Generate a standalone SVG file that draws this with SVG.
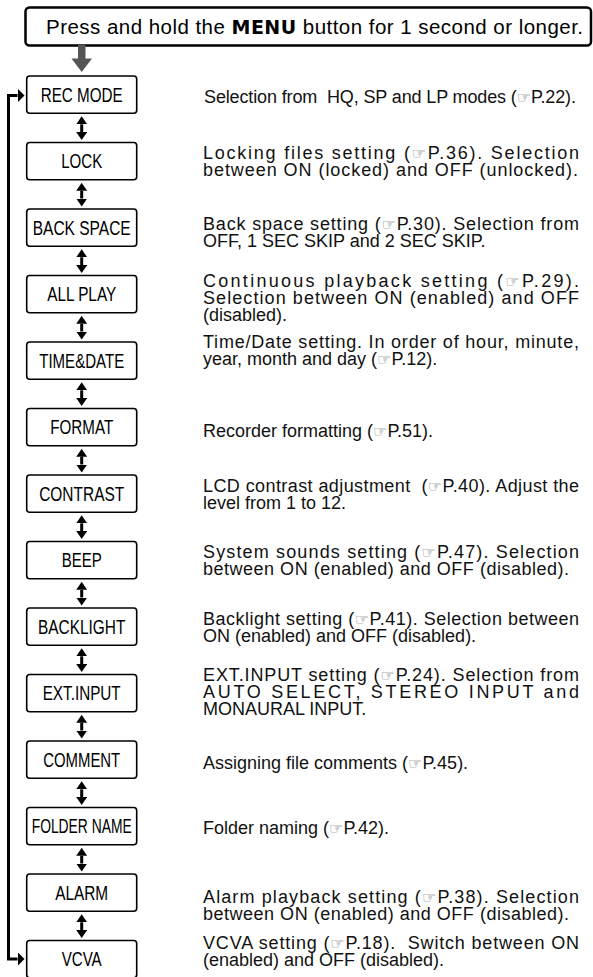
<svg xmlns="http://www.w3.org/2000/svg" width="593" height="977" viewBox="0 0 593 977">
<style>
.box{fill:#fff;stroke:#000;stroke-width:1.6}
.lbl{font-family:"Liberation Sans",Arial,sans-serif;font-size:20.5px;fill:#000;text-anchor:middle}
.d{font-family:"Liberation Sans",Arial,sans-serif;font-size:18px;fill:#111}
.h{font-family:"DejaVu Sans",sans-serif;font-size:16px;fill:#666}
.c{stroke:#000;stroke-width:3;fill:none}
</style>
<defs>
<marker id="ah" markerUnits="userSpaceOnUse" viewBox="0 0 8 11" markerWidth="8" markerHeight="11" refX="0" refY="5.5" orient="auto-start-reverse"><path d="M0,0 L8,5.5 L0,11 z" fill="#000"/></marker>
<marker id="lh" markerUnits="userSpaceOnUse" viewBox="0 0 7 14" markerWidth="7" markerHeight="14" refX="0" refY="7" orient="auto-start-reverse"><path d="M0,0 L7,7 L0,14 z" fill="#000"/></marker>
</defs>
<g id="start">
<rect x="25.5" y="7.5" width="565.5" height="38" rx="4" fill="#fff" stroke="#000" stroke-width="2.5"/>
<text x="46" y="34" font-family="'Liberation Sans',Arial,sans-serif" font-size="20.5" fill="#000" textLength="537" lengthAdjust="spacing">Press and hold the <tspan font-family="'DejaVu Sans',sans-serif" font-weight="bold" font-size="19">MENU</tspan> button for 1 second or longer.</text>
</g>
<g id="connectors">
<path d="M78,45 H85.5 V58.5 H92 L81.7,72 L71.5,58.5 H78 z" fill="#555"/>
<line class="c" x1="81.7" y1="124.3" x2="81.7" y2="132" marker-start="url(#ah)" marker-end="url(#ah)"/>
<line class="c" x1="81.7" y1="190.8" x2="81.7" y2="198.5" marker-start="url(#ah)" marker-end="url(#ah)"/>
<line class="c" x1="81.7" y1="257.3" x2="81.7" y2="265" marker-start="url(#ah)" marker-end="url(#ah)"/>
<line class="c" x1="81.7" y1="323.8" x2="81.7" y2="331.5" marker-start="url(#ah)" marker-end="url(#ah)"/>
<line class="c" x1="81.7" y1="390.3" x2="81.7" y2="398" marker-start="url(#ah)" marker-end="url(#ah)"/>
<line class="c" x1="81.7" y1="456.8" x2="81.7" y2="464.5" marker-start="url(#ah)" marker-end="url(#ah)"/>
<line class="c" x1="81.7" y1="523.3" x2="81.7" y2="531" marker-start="url(#ah)" marker-end="url(#ah)"/>
<line class="c" x1="81.7" y1="589.8" x2="81.7" y2="597.5" marker-start="url(#ah)" marker-end="url(#ah)"/>
<line class="c" x1="81.7" y1="656.3" x2="81.7" y2="664" marker-start="url(#ah)" marker-end="url(#ah)"/>
<line class="c" x1="81.7" y1="722.8" x2="81.7" y2="730.5" marker-start="url(#ah)" marker-end="url(#ah)"/>
<line class="c" x1="81.7" y1="789.3" x2="81.7" y2="797" marker-start="url(#ah)" marker-end="url(#ah)"/>
<line class="c" x1="81.7" y1="855.8" x2="81.7" y2="863.5" marker-start="url(#ah)" marker-end="url(#ah)"/>
<line class="c" x1="81.7" y1="922.3" x2="81.7" y2="930" marker-start="url(#ah)" marker-end="url(#ah)"/>
<path class="c" stroke-width="3.2" d="M17.5,95.5 H8.5 V959 H17.5" marker-start="url(#lh)" marker-end="url(#lh)"/>
</g>
<g id="n0"><rect class="box" x="26.7" y="76" width="110" height="37.3" rx="3"/><text class="lbl" x="81.7" y="101.7" textLength="82" lengthAdjust="spacingAndGlyphs">REC MODE</text></g>
<g id="n1"><rect class="box" x="26.7" y="142.5" width="110" height="37.3" rx="3"/><text class="lbl" x="81.7" y="168.2" textLength="41" lengthAdjust="spacingAndGlyphs">LOCK</text></g>
<g id="n2"><rect class="box" x="26.7" y="209" width="110" height="37.3" rx="3"/><text class="lbl" x="81.7" y="234.7" textLength="98" lengthAdjust="spacingAndGlyphs">BACK SPACE</text></g>
<g id="n3"><rect class="box" x="26.7" y="275.5" width="110" height="37.3" rx="3"/><text class="lbl" x="81.7" y="301.2" textLength="69" lengthAdjust="spacingAndGlyphs">ALL PLAY</text></g>
<g id="n4"><rect class="box" x="26.7" y="342" width="110" height="37.3" rx="3"/><text class="lbl" x="81.7" y="367.7" textLength="85" lengthAdjust="spacingAndGlyphs">TIME&amp;DATE</text></g>
<g id="n5"><rect class="box" x="26.7" y="408.5" width="110" height="37.3" rx="3"/><text class="lbl" x="81.7" y="434.2" textLength="63" lengthAdjust="spacingAndGlyphs">FORMAT</text></g>
<g id="n6"><rect class="box" x="26.7" y="475" width="110" height="37.3" rx="3"/><text class="lbl" x="81.7" y="500.7" textLength="85" lengthAdjust="spacingAndGlyphs">CONTRAST</text></g>
<g id="n7"><rect class="box" x="26.7" y="541.5" width="110" height="37.3" rx="3"/><text class="lbl" x="81.7" y="567.2" textLength="40" lengthAdjust="spacingAndGlyphs">BEEP</text></g>
<g id="n8"><rect class="box" x="26.7" y="608" width="110" height="37.3" rx="3"/><text class="lbl" x="81.7" y="633.7" textLength="87.5" lengthAdjust="spacingAndGlyphs">BACKLIGHT</text></g>
<g id="n9"><rect class="box" x="26.7" y="674.5" width="110" height="37.3" rx="3"/><text class="lbl" x="81.7" y="700.2" textLength="78" lengthAdjust="spacingAndGlyphs">EXT.INPUT</text></g>
<g id="n10"><rect class="box" x="26.7" y="741" width="110" height="37.3" rx="3"/><text class="lbl" x="81.7" y="766.7" textLength="77" lengthAdjust="spacingAndGlyphs">COMMENT</text></g>
<g id="n11"><rect class="box" x="26.7" y="807.5" width="110" height="37.3" rx="3"/><text class="lbl" x="81.7" y="833.2" textLength="100" lengthAdjust="spacingAndGlyphs">FOLDER NAME</text></g>
<g id="n12"><rect class="box" x="26.7" y="874" width="110" height="37.3" rx="3"/><text class="lbl" x="81.7" y="899.7" textLength="53" lengthAdjust="spacingAndGlyphs">ALARM</text></g>
<g id="n13"><rect class="box" x="26.7" y="940.5" width="110" height="37.3" rx="3"/><text class="lbl" x="81.7" y="966.2" textLength="40" lengthAdjust="spacingAndGlyphs">VCVA</text></g>
<g id="descriptions">
<text class="d" x="204" y="103" textLength="372" lengthAdjust="spacing">Selection from&#160; HQ, SP and LP modes (<tspan class="h">☞</tspan>P.22).</text>
<text class="d" x="203" y="158.5" textLength="376" lengthAdjust="spacing">Locking files setting (<tspan class="h">☞</tspan>P.36). Selection</text>
<text class="d" x="203" y="175.5" textLength="375" lengthAdjust="spacing">between ON (locked) and OFF (unlocked).</text>
<text class="d" x="203" y="229.5" textLength="376" lengthAdjust="spacing">Back space setting (<tspan class="h">☞</tspan>P.30). Selection from</text>
<text class="d" x="203" y="246.5">OFF, 1 SEC SKIP and 2 SEC SKIP.</text>
<text class="d" x="203" y="287" textLength="376" lengthAdjust="spacing">Continuous playback setting (<tspan class="h">☞</tspan>P.29).</text>
<text class="d" x="203" y="304" textLength="376" lengthAdjust="spacing">Selection between ON (enabled) and OFF</text>
<text class="d" x="203" y="321">(disabled).</text>
<text class="d" x="203" y="347.5" textLength="376" lengthAdjust="spacing">Time/Date setting. In order of hour, minute,</text>
<text class="d" x="203" y="364.5">year, month and day (<tspan class="h">☞</tspan>P.12).</text>
<text class="d" x="203" y="437">Recorder formatting (<tspan class="h">☞</tspan>P.51).</text>
<text class="d" x="203" y="492" textLength="376" lengthAdjust="spacing">LCD contrast adjustment&#160; (<tspan class="h">☞</tspan>P.40). Adjust the</text>
<text class="d" x="203" y="509">level from 1 to 12.</text>
<text class="d" x="203" y="558" textLength="376" lengthAdjust="spacing">System sounds setting (<tspan class="h">☞</tspan>P.47). Selection</text>
<text class="d" x="203" y="575" textLength="366" lengthAdjust="spacing">between ON (enabled) and OFF (disabled).</text>
<text class="d" x="203" y="625" textLength="376" lengthAdjust="spacing">Backlight setting (<tspan class="h">☞</tspan>P.41). Selection between</text>
<text class="d" x="203" y="642">ON (enabled) and OFF (disabled).</text>
<text class="d" x="203" y="680.5" textLength="376" lengthAdjust="spacing">EXT.INPUT setting (<tspan class="h">☞</tspan>P.24). Selection from</text>
<text class="d" x="203" y="697.5" textLength="376" lengthAdjust="spacing">AUTO SELECT, STEREO INPUT and</text>
<text class="d" x="203" y="714.5">MONAURAL INPUT.</text>
<text class="d" x="203" y="768.5">Assigning file comments (<tspan class="h">☞</tspan>P.45).</text>
<text class="d" x="203" y="833.5">Folder naming (<tspan class="h">☞</tspan>P.42).</text>
<text class="d" x="203" y="902.5" textLength="376" lengthAdjust="spacing">Alarm playback setting (<tspan class="h">☞</tspan>P.38). Selection</text>
<text class="d" x="203" y="919.5" textLength="366" lengthAdjust="spacing">between ON (enabled) and OFF (disabled).</text>
<text class="d" x="203" y="948.5" textLength="376" lengthAdjust="spacing">VCVA setting (<tspan class="h">☞</tspan>P.18).&#160; Switch between ON</text>
<text class="d" x="203" y="965.5">(enabled) and OFF (disabled).</text>
</g>
</svg>
